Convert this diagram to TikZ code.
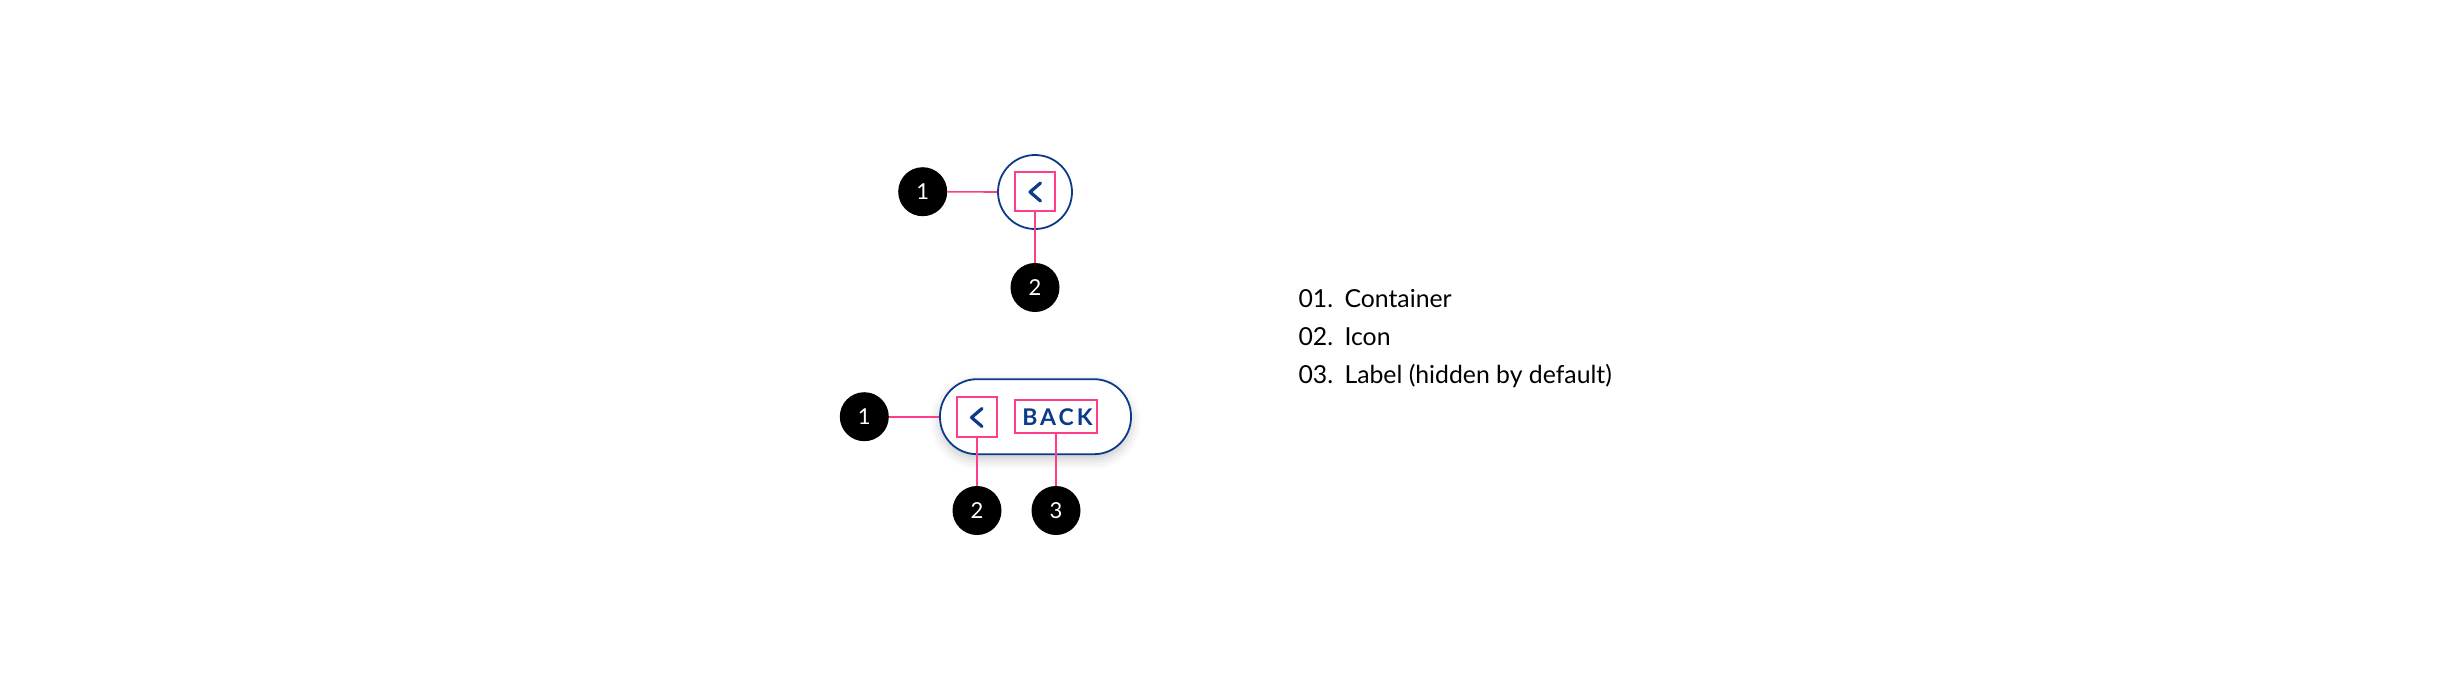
\documentclass[tikz,border=0pt]{standalone}
\usepackage{fontspec}
\setmainfont{Lato}
\newfontfamily\backfont[LetterSpace=13]{Lato}
\usetikzlibrary{shadows.blur}
\definecolor{navy}{HTML}{0B3A8A}
\definecolor{hotpink}{HTML}{FF3D8A}
\tikzset{
  badge/.style={circle, fill=black, minimum size=49pt, inner sep=0pt, text=white, font=\fontsize{22}{22}\selectfont},
  pinkbox/.style={draw=hotpink, line width=1.6pt, inner sep=0pt},
  pinkline/.style={draw=hotpink, line width=1.6pt},
  chev/.style={draw=navy, line width=3.2pt, line cap=round, line join=round},
  legend/.style={anchor=base west, inner sep=0pt, font=\fontsize{24.8}{24.8}\selectfont}
}
\begin{document}
\begin{tikzpicture}[x=1pt, y=-1pt]
\useasboundingbox (0,0) rectangle (2450,675);
% --- top: icon-only button
\node[circle, draw=navy, line width=1.8pt, minimum size=74pt, inner sep=0pt] (c1) at (1035,192) {};
\node[pinkbox, minimum width=40pt, minimum height=39pt] (i1) at (1035,191.5) {};
\coordinate (ch1a) at (1040.5,183);
\coordinate (ch1b) at (1030,192);
\coordinate (ch1c) at (1040.5,201);
\draw[chev] (ch1a) -- (ch1b) -- (ch1c);
\node[badge] (b1) at (922.7,191.7) {1};
\node[badge] (b2) at (1035,287.5) {2};
\draw[pinkline] (b1) -- (c1.west);
\draw[pinkline] (i1.south) -- (b2.north);
% --- bottom: button with label
\node[draw=navy, line width=1.8pt, fill=white, rounded corners=37pt, minimum width=191pt, minimum height=75pt, inner sep=0pt,
  blur shadow={shadow xshift=0pt, shadow yshift=-5pt, shadow blur radius=10pt, shadow opacity=22}] (c2) at (1035.5,416.7) {};
\node[pinkbox, minimum width=40pt, minimum height=40pt] (i2) at (977,417) {};
\coordinate (ch2a) at (982,408.5);
\coordinate (ch2b) at (971.5,417.5);
\coordinate (ch2c) at (982,426.5);
\draw[chev] (ch2a) -- (ch2b) -- (ch2c);
\node[pinkbox, minimum width=82pt, minimum height=33pt] (l2) at (1056,416.5) {};
\node[inner sep=0pt, text=navy, font=\backfont\bfseries\fontsize{23}{23}\selectfont] (t2) at (1057.5,417) {BACK};
\node[badge] (b3) at (864.3,416.7) {1};
\node[badge] (b4) at (977,510.5) {2};
\node[badge] (b5) at (1056,510.5) {3};
\draw[pinkline] (b3) -- (c2.west);
\draw[pinkline] (i2.south) -- (b4.north);
\draw[pinkline] (l2.south) -- (b5.north);
% --- legend
\node[legend] (n1) at (1298.3,307.7) {01.};
\node[legend] (n2) at (1298.3,345.7) {02.};
\node[legend] (n3) at (1298.3,383.3) {03.};
\node[legend] (d1) at (1344.3,307.7) {Container};
\node[legend] (d2) at (1344.3,345.7) {Icon};
\node[legend] (d3) at (1344.3,383.3) {Label (hidden by default)};
\end{tikzpicture}
\end{document}
